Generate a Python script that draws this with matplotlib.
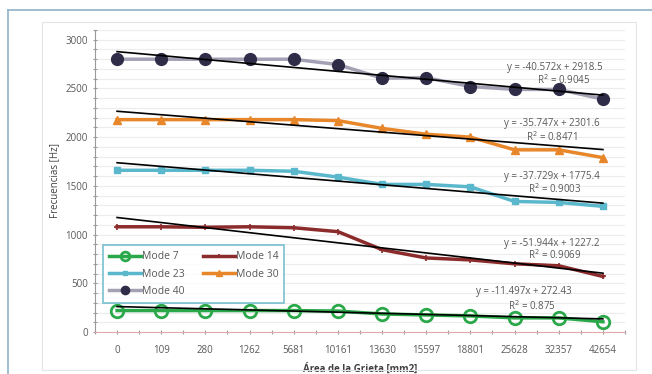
import numpy as np
import matplotlib.pyplot as plt
from matplotlib.patches import Rectangle
from matplotlib.lines import Line2D

# Data
areas = ['0', '109', '280', '1262', '5681', '10161', '13630',
         '15597', '18801', '25628', '32357', '42654']
mode7 = [220, 220, 220, 220, 220, 215, 185, 175, 165, 145, 145, 105]
mode14 = [1080, 1080, 1075, 1080, 1070, 1030, 845, 760, 740, 700, 680, 570]
mode23 = [1660, 1660, 1660, 1660, 1650, 1590, 1515, 1515, 1490, 1340, 1330, 1290]
mode30 = [2180, 2180, 2180, 2180, 2180, 2170, 2090, 2030, 2000, 1870, 1870, 1790]
mode40 = [2800, 2800, 2800, 2800, 2800, 2745, 2605, 2610, 2520, 2490, 2490, 2390]

# trendline coefficients (slope, intercept, R2) as printed on the chart
trend7 = (-11.497, 272.43, '0.875')
trend14 = (-51.944, 1227.2, '0.9069')
trend23 = (-37.729, 1775.4, '0.9003')
trend30 = (-35.747, 2301.6, '0.8471')
trend40 = (-40.572, 2918.5, '0.9045')

fig = plt.figure(figsize=(6.52, 3.74), dpi=100)
plt.rcParams['font.family'] = ['Open Sans', 'DejaVu Sans']

# outer frames
fig.add_artist(Line2D([8/652, 1], [1-10/374, 1-10/374], color='#8fb3c8', lw=1.2))
fig.add_artist(Line2D([8/652, 8/652], [0, 1-10/374], color='#8fb3c8', lw=1.2))
fig.add_artist(Rectangle((42/652, 4/374), 594/652, 348/374, fill=False,
                         edgecolor='#e4e4e4', lw=0.8))

ax = fig.add_axes([95/652, 1-332/374, 530/652, 302/374])
x = np.arange(len(areas))

series = [
    ('Mode 7', mode7, '#2aa84a', 'o', dict(ms=9, mfc='none', mec='#2aa84a', mew=2), trend7),
    ('Mode 14', mode14, '#8c2b2b', '+', dict(ms=5, mec='#8c2b2b', mew=1.2), trend14),
    ('Mode 23', mode23, '#5bb8cc', 's', dict(ms=5, mfc='#5bb8cc', mec='#5bb8cc'), trend23),
    ('Mode 30', mode30, '#e8862a', '^', dict(ms=6, mfc='#e8862a', mec='#e8862a'), trend30),
    ('Mode 40', mode40, '#a5a1b5', 'o', dict(ms=8.5, mfc='#2e2c47', mec='#2e2c47'), trend40),
]

handles = {}
for name, vals, col, mk, kw, tr in series:
    h, = ax.plot(x, vals, color=col, lw=2.5, marker=mk, label=name, zorder=3, **kw)
    handles[name] = h

for name, vals, col, mk, kw, tr in series:
    xt = x + 1
    ax.plot(x, tr[0] * xt + tr[1], color='black', lw=1.2, zorder=4)

# equation labels (positions in data coords)
labels = [
    (trend40, 9.9, 2713, 10.1, 2590),
    (trend30, 9.85, 2140, 9.85, 1997),
    (trend23, 9.85, 1597, 9.9, 1464),
    (trend14, 9.85, 911, 9.9, 788),
    (trend7, 9.2, 420, 9.4, 266),
]
for tr, ex, ey, rx, ry in labels:
    ax.text(ex, ey, 'y = %gx + %g' % (tr[0], tr[1]), ha='center', va='center',
            fontsize=7, color='#595959')
    ax.text(rx, ry, 'R$^2$ = ' + tr[2], ha='center', va='center',
            fontsize=7, color='#595959')

ax.set_xlim(-0.5, len(areas) - 0.5)
ax.set_ylim(0, 3100)
ax.set_yticks(np.arange(0, 3001, 500))
ax.set_yticks(np.arange(0, 3101, 100), minor=True)
ax.set_xticks(x)
ax.set_xticklabels(areas)
ax.set_xticks(np.arange(-0.5, len(areas), 1), minor=True)
ax.grid(which='both', axis='y', color='#ececec', lw=0.8)
ax.set_axisbelow(True)

for s in ['top', 'right']:
    ax.spines[s].set_visible(False)
ax.spines['left'].set_color('#9a9a9a')
ax.spines['bottom'].set_color('#e2a8a8')
ax.tick_params(axis='both', which='both', colors='#9a9a9a', labelsize=7,
               labelcolor='#595959', length=3, direction='inout', width=0.8)
ax.tick_params(axis='x', pad=8)

ax.set_ylabel('Frecuencias [Hz]', fontsize=7, color='#404040', labelpad=4)
ax.set_xlabel('Área de la Grieta [mm2]', fontsize=7, color='#404040',
              fontweight='bold', labelpad=5)

order = ['Mode 7', 'Mode 23', 'Mode 40', 'Mode 14', 'Mode 30']
leg = ax.legend([handles[n] for n in order], order,
                loc='upper left', bbox_to_anchor=(3/530, 92/302), ncol=2,
                fontsize=7.5, frameon=True, fancybox=False, borderpad=0.6,
                handlelength=3.0, columnspacing=1.8, labelspacing=0.6,
                handletextpad=0.1, markerscale=0.7)
leg.get_frame().set_edgecolor('#5bb0c4')
leg.get_frame().set_linewidth(1.2)
for t in leg.get_texts():
    t.set_color('#595959')

plt.savefig('out.png', dpi=100)
